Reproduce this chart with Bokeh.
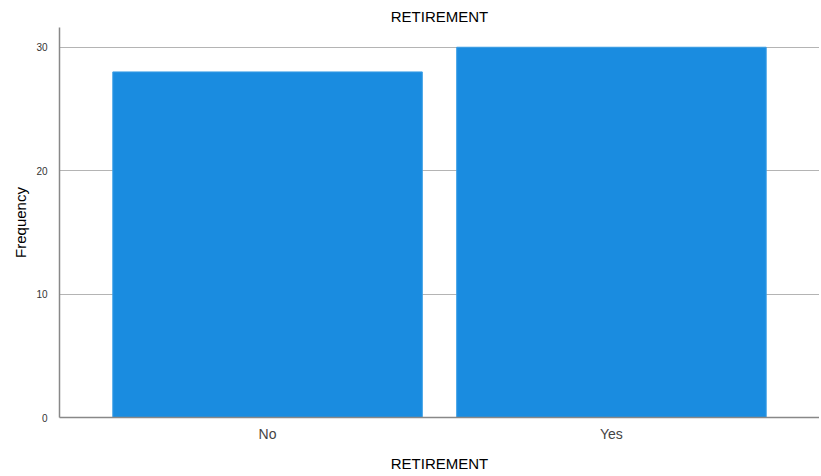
from bokeh.plotting import figure
from bokeh.models import FactorRange, Range1d, FixedTicker, ColumnDataSource
from bokeh.embed import file_html
from bokeh.resources import INLINE

categories = ["No", "Yes"]
frequency = [28, 30]
y_ticks = [0, 10, 20, 30]

src = ColumnDataSource(dict(cat=categories, val=frequency))

p = figure(
    x_range=FactorRange(*categories, range_padding=0.105),
    y_range=Range1d(0, 31.6),
    width=819, height=474,
    output_backend="svg", toolbar_location=None,
    title="RETIREMENT",
    min_border_left=59, min_border_right=0, min_border_top=27, min_border_bottom=57,
)
p.vbar(x="cat", top="val", width=0.9, source=src,
       fill_color="#1a8ce0", line_color="#3b9fe6", line_width=1)

p.title.align = "center"
p.title.text_font = "Liberation Sans"
p.title.text_font_size = "15px"
p.title.text_font_style = "normal"
p.title.text_color = "#000000"
p.title.offset = 0
p.title.standoff = 5

p.outline_line_color = None
p.xgrid.grid_line_color = None
p.ygrid.grid_line_color = "#b4b4b4"
p.ygrid.grid_line_width = 1
p.ygrid.level = "underlay"

p.yaxis.ticker = FixedTicker(ticks=y_ticks)
p.yaxis.axis_label = "Frequency"
p.xaxis.axis_label = "RETIREMENT"
for ax in (p.xaxis, p.yaxis):
    ax.axis_line_color = "#888888"
    ax.axis_line_width = 1.5
    ax.major_tick_line_color = None
    ax.minor_tick_line_color = None
    ax.axis_label_text_font = "Liberation Sans"
    ax.axis_label_text_font_style = "normal"
    ax.axis_label_text_color = "#000000"
    ax.axis_label_text_font_size = "15px"
    ax.major_label_text_font = "Liberation Sans"

p.yaxis.major_label_text_font_size = "10px"
p.yaxis.major_label_text_color = "#333333"
p.xaxis.major_label_text_font_size = "14px"
p.xaxis.major_label_text_color = "#444444"
p.xaxis.major_label_standoff = 2
p.xaxis.axis_label_standoff = 10
p.yaxis.major_label_standoff = 6
p.yaxis.axis_label_standoff = 4

open("out.html", "w").write(file_html(p, INLINE))
